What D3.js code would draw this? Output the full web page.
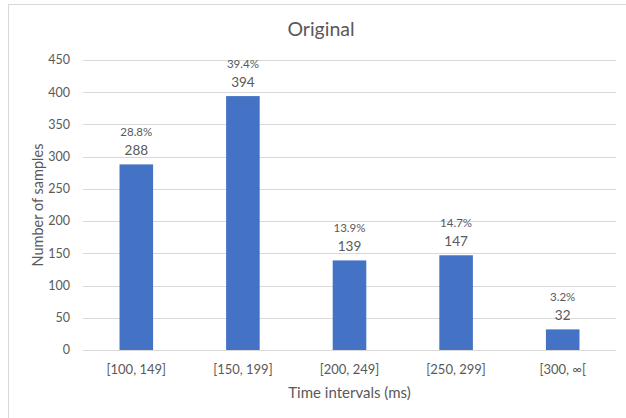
<!DOCTYPE html>
<html>
<head>
<meta charset="utf-8">
<script src="https://cdn.jsdelivr.net/npm/d3@7"></script>
<style>
  body { margin: 0; background: #fff; }
  svg text { font-family: Lato, "Open Sans", sans-serif; fill: #595959; }
</style>
</head>
<body>
<main></main>
<script>
//Histogram of time intervals

const categories = ["[100, 149]", "[150, 199]", "[200, 249]", "[250, 299]", "[300, \u221E["];
const samples = [288, 394, 139, 147, 32];
const percents = ["28.8%", "39.4%", "13.9%", "14.7%", "3.2%"];
const yTicks = [0, 50, 100, 150, 200, 250, 300, 350, 400, 450];

const w = 626;
const h = 418;
const margin = {top: 60, right: 10, bottom: 68, left: 83};

const svg = d3.select("main")
  .append("svg")
  .attr("width", w)
  .attr("height", h);

//chart border
svg.append("rect")
  .attr("x", 8.5).attr("y", 4.5)
  .attr("width", 640).attr("height", 430)
  .attr("fill", "none")
  .attr("stroke", "#d9d9d9");

const x = d3.scaleBand()
  .domain(categories)
  .range([margin.left, w - margin.right])
  .paddingInner(0.685)
  .paddingOuter(0.3425);

const y = d3.scaleLinear()
  .domain([0, 450])
  .range([h - margin.bottom, margin.top]);

//gridlines
svg.append("g")
  .selectAll("line")
  .data(yTicks)
  .enter()
  .append("line")
  .attr("x1", margin.left)
  .attr("x2", w - margin.right)
  .attr("y1", d => Math.round(y(d)) + 0.5)
  .attr("y2", d => Math.round(y(d)) + 0.5)
  .attr("stroke", "#d9d9d9");

//y tick labels
svg.append("g")
  .selectAll("text")
  .data(yTicks)
  .enter()
  .append("text")
  .attr("x", margin.left - 13)
  .attr("y", d => y(d))
  .attr("dy", "0.35em")
  .attr("text-anchor", "end")
  .style("font-size", "12.5px")
  .text(d => d);

//bars
svg.append("g")
  .selectAll("rect")
  .data(samples)
  .enter()
  .append("rect")
  .attr("x", (d, i) => x(categories[i]))
  .attr("y", d => y(d))
  .attr("width", x.bandwidth())
  .attr("height", d => y(0) - y(d))
  .attr("fill", "#4472c4");

//value labels
svg.append("g")
  .selectAll("text")
  .data(samples)
  .enter()
  .append("text")
  .attr("x", (d, i) => x(categories[i]) + x.bandwidth() / 2)
  .attr("y", d => y(d) - 9)
  .attr("text-anchor", "middle")
  .style("font-size", "13.5px")
  .text(d => d);

svg.append("g")
  .selectAll("text")
  .data(percents)
  .enter()
  .append("text")
  .attr("x", (d, i) => x(categories[i]) + x.bandwidth() / 2)
  .attr("y", (d, i) => y(samples[i]) - 28)
  .attr("text-anchor", "middle")
  .style("font-size", "11.5px")
  .text(d => d);

//x labels
svg.append("g")
  .selectAll("text")
  .data(categories)
  .enter()
  .append("text")
  .attr("x", d => x(d) + x.bandwidth() / 2)
  .attr("y", y(0) + 24)
  .attr("text-anchor", "middle")
  .style("font-size", "13px")
  .text(d => d);

//titles
svg.append("text")
  .attr("x", 321).attr("y", 36)
  .attr("text-anchor", "middle")
  .style("font-size", "19.5px")
  .text("Original");

svg.append("text")
  .attr("x", (margin.left + w - margin.right) / 2)
  .attr("y", 398)
  .attr("text-anchor", "middle")
  .style("font-size", "15px")
  .text("Time intervals (ms)");

svg.append("text")
  .attr("transform", "translate(43," + (y(225)) + ") rotate(-90)")
  .attr("text-anchor", "middle")
  .style("font-size", "14.5px")
  .text("Number of samples");
</script>
</body>
</html>
